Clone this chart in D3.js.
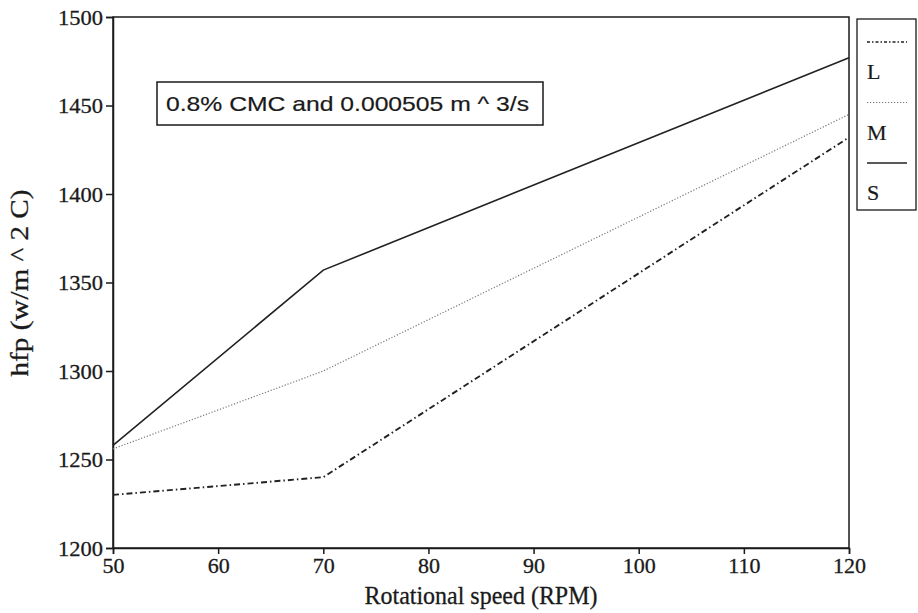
<!DOCTYPE html>
<html>
<head>
<meta charset="utf-8">
<script src="https://cdn.jsdelivr.net/npm/d3@7"></script>
<style>
  body { margin: 0; background: #fff; }
  svg { display: block; }
</style>
</head>
<body>
<svg id="chart" width="918" height="613"></svg>
<script>
// Rotational speed (RPM) and heat transfer coefficient hfp for each size
const rpm = [50, 70, 120];
const seriesL = [1230, 1240, 1432];
const seriesM = [1256, 1300, 1445];
const seriesS = [1258, 1357, 1477];
const seriesNames = ["L", "M", "S"];
const xTicks = [50, 60, 70, 80, 90, 100, 110, 120];
const yTicks = [1200, 1250, 1300, 1350, 1400, 1450, 1500];
const note = "0.8% CMC and 0.000505 m ^ 3/s";

const svg = d3.select("#chart");
const margin = { left: 113, top: 17, right: 849, bottom: 548 };

const x = d3.scaleLinear().domain([50, 120]).range([margin.left, margin.right]);
const y = d3.scaleLinear().domain([1200, 1500]).range([margin.bottom, margin.top]);

const serif = "'Liberation Serif', 'Times New Roman', serif";
const ink = "#1a1a1a";

// line styles per series
const styles = {
  L: { dash: "6,3,1.5,3", width: 1.9, color: "#222" },
  M: { dash: "1.2,1.8", width: 1.2, color: "#777" },
  S: { dash: null, width: 1.6, color: "#222" }
};
const seriesData = { L: seriesL, M: seriesM, S: seriesS };

// frame
svg.append("rect")
  .attr("x", margin.left).attr("y", margin.top)
  .attr("width", margin.right - margin.left)
  .attr("height", margin.bottom - margin.top)
  .attr("fill", "none").attr("stroke", ink).attr("stroke-width", 1.5);

// axes
const xAxis = svg.append("g")
  .attr("transform", `translate(0,${margin.bottom})`)
  .call(d3.axisBottom(x).tickValues(xTicks).tickSize(6).tickPadding(3).tickFormat(d3.format("d")));
const yAxis = svg.append("g")
  .attr("transform", `translate(${margin.left},0)`)
  .call(d3.axisLeft(y).tickValues(yTicks).tickSize(7).tickPadding(3).tickFormat(d3.format("d")));

[xAxis, yAxis].forEach(g => {
  g.attr("font-size", null).attr("font-family", null);
  g.select(".domain").attr("stroke", ink).attr("stroke-width", 1.5);
  g.selectAll(".tick line").attr("stroke", ink).attr("stroke-width", 1.5);
  g.selectAll(".tick text")
    .attr("fill", ink)
    .attr("stroke", ink).attr("stroke-width", 0.3)
    .style("font-family", serif)
    .style("font-size", "22px");
});
yAxis.selectAll(".tick text").attr("dy", "0.33em").attr("textLength", 45).attr("lengthAdjust", "spacingAndGlyphs");

// axis titles
svg.append("text")
  .attr("x", 481)
  .attr("y", 604)
  .attr("text-anchor", "middle")
  .attr("textLength", 233)
  .attr("lengthAdjust", "spacingAndGlyphs")
  .attr("stroke", ink).attr("stroke-width", 0.3)
  .style("font-family", serif).style("font-size", "26px").attr("fill", ink)
  .text("Rotational speed (RPM)");

svg.append("text")
  .attr("transform", `translate(28,283) rotate(-90)`)
  .attr("text-anchor", "middle")
  .attr("textLength", 187)
  .attr("lengthAdjust", "spacingAndGlyphs")
  .attr("stroke", ink).attr("stroke-width", 0.3)
  .style("font-family", serif).style("font-size", "26px").attr("fill", ink)
  .text("hfp (w/m ^ 2 C)");

// series lines
const line = d3.line().x((d, i) => x(rpm[i])).y(d => y(d));
seriesNames.forEach(name => {
  const st = styles[name];
  svg.append("path")
    .datum(seriesData[name])
    .attr("d", line)
    .attr("fill", "none")
    .attr("stroke", st.color)
    .attr("stroke-width", st.width)
    .attr("stroke-dasharray", st.dash);
});

// annotation box
const noteG = svg.append("g");
noteG.append("rect")
  .attr("x", 157).attr("y", 82).attr("width", 386).attr("height", 43)
  .attr("fill", "#fff").attr("stroke", ink).attr("stroke-width", 1.5);
noteG.append("text")
  .attr("x", 166).attr("y", 111)
  .attr("textLength", 363)
  .attr("lengthAdjust", "spacingAndGlyphs")
  .attr("stroke", ink).attr("stroke-width", 0.2)
  .style("font-family", "'Liberation Sans', Arial, sans-serif")
  .style("font-size", "21px").attr("fill", ink)
  .text(note);

// legend
const leg = svg.append("g");
leg.append("rect")
  .attr("x", 857).attr("y", 19).attr("width", 59).attr("height", 191)
  .attr("fill", "#fff").attr("stroke", ink).attr("stroke-width", 1.3);
seriesNames.forEach((name, i) => {
  const st = styles[name];
  const ly = 42 + i * 60.5;
  leg.append("line")
    .attr("x1", 867).attr("x2", 907).attr("y1", ly).attr("y2", ly)
    .attr("stroke", st.color).attr("stroke-width", name === "L" ? 1.5 : st.width)
    .attr("stroke-dasharray", name === "L" ? "3,2,1.5,2" : st.dash);
  leg.append("text")
    .attr("x", 867).attr("y", ly + 37)
    .attr("stroke", ink).attr("stroke-width", 0.2)
    .style("font-family", serif).style("font-size", "22px").attr("fill", ink)
    .text(name);
});
</script>
</body>
</html>
